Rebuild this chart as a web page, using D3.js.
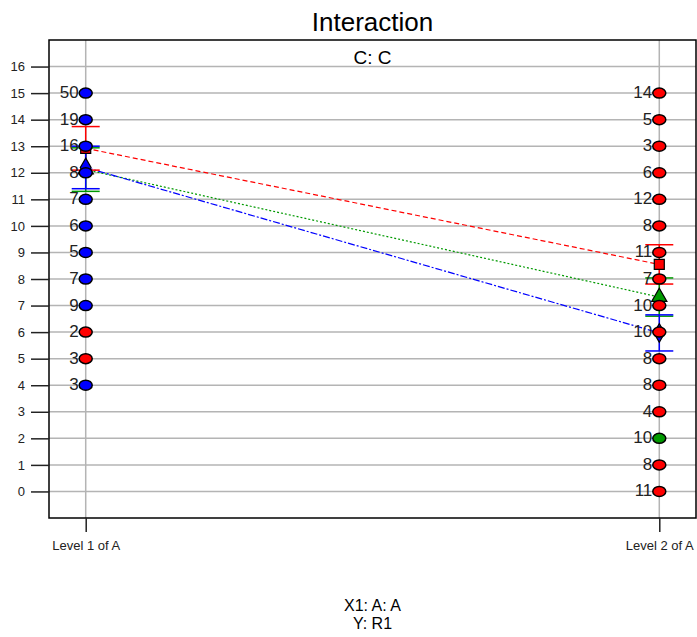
<!DOCTYPE html>
<html>
<head>
<meta charset="utf-8">
<script src="https://cdn.jsdelivr.net/npm/d3@7"></script>
<style>
  body { margin: 0; background: #fff; }
  svg { display: block; font-family: "Liberation Sans", Arial, sans-serif; }
</style>
</head>
<body>
<svg class="main" width="697" height="637"></svg>
<script>
(function () {
  'use strict';

  // x levels
  const levels = ["Level 1 of A", "Level 2 of A"];
  const yTicks = d3.range(0, 17);

  // raw points, level 1
  const level1Values = [15, 14, 13, 12, 11, 10, 9, 8, 7, 6, 5, 4];
  const level1Labels = ["50", "19", "16", "8", "7", "6", "5", "7", "9", "2", "3", "3"];
  const level1Groups = ["b", "b", "b", "b", "b", "b", "b", "b", "b", "r", "r", "b"];

  // raw points, level 2
  const level2Values = [15, 14, 13, 12, 11, 10, 9, 8, 7, 6, 5, 4, 3, 2, 1, 0];
  const level2Labels = ["14", "5", "3", "6", "12", "8", "11", "7", "10", "10", "8", "8", "4", "10", "8", "11"];
  const level2Groups = ["r", "r", "r", "r", "r", "r", "r", "r", "r", "r", "r", "r", "r", "g", "r", "r"];

  // means and half-widths of error bars, per series
  const seriesKeys = ["r", "g", "b"];
  const meansRed = [12.92, 8.55];
  const errRed = [0.82, 0.74];
  const meansGreen = [12.12, 7.32];
  const errGreen = [0.82, 0.72];
  const meansBlue = [12.2, 5.97];
  const errBlue = [0.8, 0.68];

  const colors = { r: "#ff0000", g: "#009900", b: "#0000ff" };
  const dashes = { r: "5,3", g: "2,2", b: "7,2,2,2" };
  const shapes = { r: d3.symbolSquare, g: d3.symbolTriangle, b: d3.symbolDiamond };

  const svg = d3.select("svg.main");
  const frame = { left: 49, right: 696, top: 40, bottom: 518 };

  const x = d3.scalePoint()
    .domain(levels)
    .range([frame.left, frame.right])
    .padding(0.064);

  const y = d3.scaleLinear()
    .domain([-1, 17])
    .range([frame.bottom, frame.top]);

  // grid
  const grid = svg.append("g").attr("stroke", "#b4b4b4").attr("stroke-width", 1.5);
  yTicks.forEach(t => {
    grid.append("line")
      .attr("x1", frame.left).attr("x2", frame.right)
      .attr("y1", y(t)).attr("y2", y(t));
  });
  levels.forEach(l => {
    grid.append("line")
      .attr("x1", x(l)).attr("x2", x(l))
      .attr("y1", frame.top).attr("y2", frame.bottom);
  });

  // frame
  svg.append("rect")
    .attr("x", frame.left).attr("y", frame.top)
    .attr("width", frame.right - frame.left)
    .attr("height", frame.bottom - frame.top)
    .attr("fill", "none")
    .attr("stroke", "#000")
    .attr("stroke-width", 1.5);

  // y axis
  const yAxis = svg.append("g")
    .attr("transform", `translate(${frame.left},0)`)
    .call(d3.axisLeft(y).tickValues(yTicks).tickSize(18).tickPadding(6));
  yAxis.select(".domain").remove();
  yAxis.selectAll(".tick line").attr("stroke", "#222").attr("stroke-width", 1.5);
  yAxis.selectAll(".tick text")
    .attr("font-size", 13)
    .attr("font-family", "Liberation Sans, Arial, sans-serif")
    .attr("fill", "#222");

  // x axis
  const xAxis = svg.append("g")
    .attr("transform", `translate(0,${frame.bottom})`)
    .call(d3.axisBottom(x).tickSize(14).tickPadding(9));
  xAxis.select(".domain").remove();
  xAxis.selectAll(".tick line").attr("stroke", "#222").attr("stroke-width", 1.5);
  xAxis.selectAll(".tick text")
    .attr("font-size", 13)
    .attr("font-family", "Liberation Sans, Arial, sans-serif")
    .attr("fill", "#222");

  // mean lines
  const series = [
    { key: "r", means: meansRed, err: errRed },
    { key: "g", means: meansGreen, err: errGreen },
    { key: "b", means: meansBlue, err: errBlue }
  ].filter(s => seriesKeys.includes(s.key));

  const line = d3.line()
    .x((d, i) => x(levels[i]))
    .y(d => y(d));

  series.forEach(s => {
    svg.append("path")
      .attr("d", line(s.means))
      .attr("fill", "none")
      .attr("stroke", colors[s.key])
      .attr("stroke-width", 1.2)
      .attr("stroke-dasharray", dashes[s.key]);
  });

  // error bars
  series.forEach(s => {
    const g = svg.append("g").attr("stroke", colors[s.key]).attr("stroke-width", 1.5);
    s.means.forEach((m, i) => {
      const cx = x(levels[i]);
      const lo = y(m - s.err[i]);
      const hi = y(m + s.err[i]);
      g.append("line").attr("x1", cx).attr("x2", cx).attr("y1", lo).attr("y2", hi);
      g.append("line").attr("x1", cx - 14).attr("x2", cx + 14).attr("y1", lo).attr("y2", lo);
      g.append("line").attr("x1", cx - 14).attr("x2", cx + 14).attr("y1", hi).attr("y2", hi);
    });
  });

  // mean markers
  series.forEach(s => {
    s.means.forEach((m, i) => {
      svg.append("path")
        .attr("d", d3.symbol().type(shapes[s.key]).size(100)())
        .attr("transform", `translate(${x(levels[i])},${y(m)})`)
        .attr("fill", colors[s.key])
        .attr("stroke", "#000")
        .attr("stroke-width", 1.2);
    });
  });

  // raw points with labels
  function drawPoints(level, values, labels, groups) {
    const g = svg.append("g");
    const cx = x(level);
    values.forEach((v, i) => {
      g.append("ellipse")
        .attr("cx", cx).attr("cy", y(v))
        .attr("rx", 6.5).attr("ry", 5)
        .attr("fill", colors[groups[i]])
        .attr("stroke", "#000")
        .attr("stroke-width", 1.5);
      g.append("text")
        .text(labels[i])
        .attr("x", cx - 7)
        .attr("y", y(v) + 5)
        .attr("text-anchor", "end")
        .attr("font-size", 17)
        .attr("fill", "#222");
    });
  }
  drawPoints(levels[0], level1Values, level1Labels, level1Groups);
  drawPoints(levels[1], level2Values, level2Labels, level2Groups);

  // titles
  const cxPlot = (frame.left + frame.right) / 2;
  svg.append("text")
    .text("Interaction")
    .attr("x", cxPlot).attr("y", 31)
    .attr("text-anchor", "middle")
    .attr("font-size", 26);
  svg.append("text")
    .text("C: C")
    .attr("x", cxPlot).attr("y", 64)
    .attr("text-anchor", "middle")
    .attr("font-size", 19);
  svg.append("text")
    .text("X1: A: A")
    .attr("x", cxPlot).attr("y", 611)
    .attr("text-anchor", "middle")
    .attr("font-size", 16);
  svg.append("text")
    .text("Y: R1")
    .attr("x", cxPlot).attr("y", 629)
    .attr("text-anchor", "middle")
    .attr("font-size", 16);
}());
</script>
</body>
</html>
